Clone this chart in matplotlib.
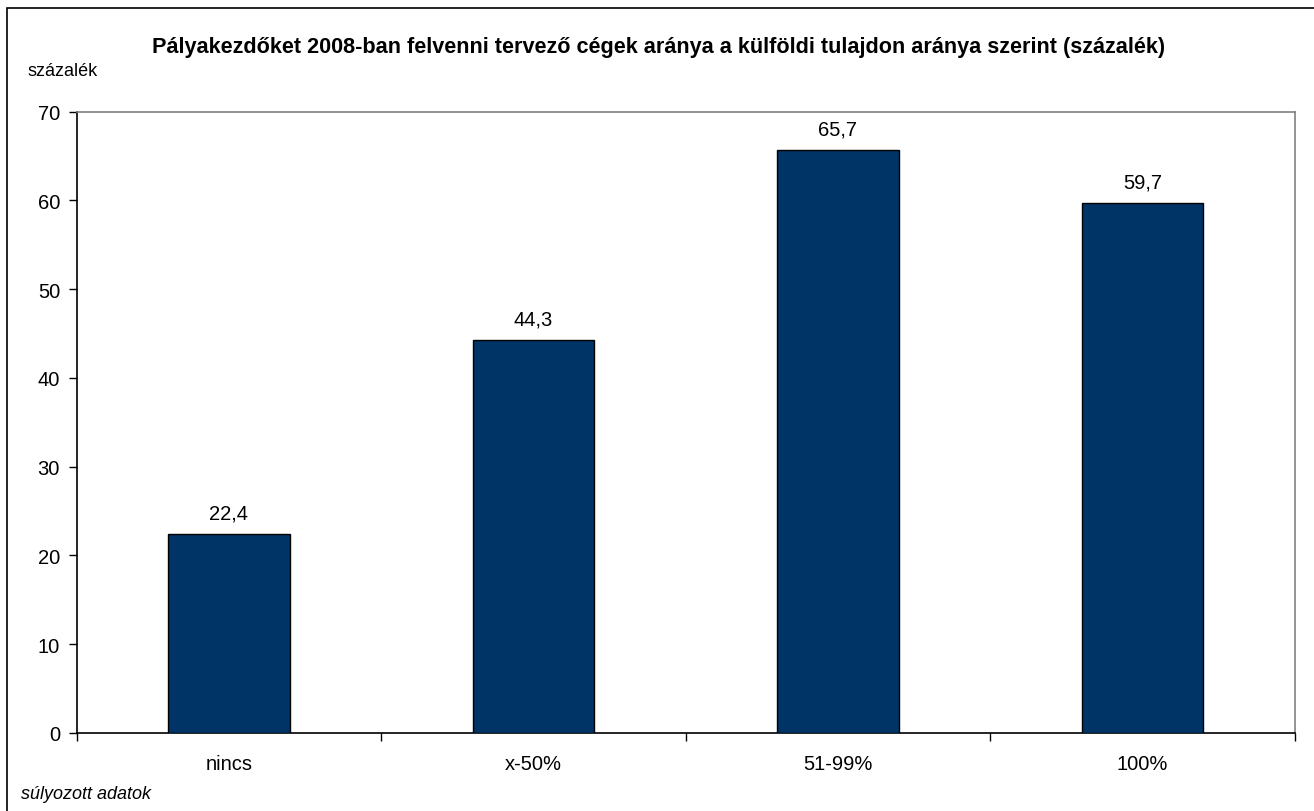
import matplotlib
matplotlib.use("Agg")
import matplotlib.pyplot as plt
from matplotlib.patches import Rectangle

categories = ["nincs", "x-50%", "51-99%", "100%"]
values = [22.4, 44.3, 65.7, 59.7]
value_labels = ["22,4", "44,3", "65,7", "59,7"]
yticks = [0, 10, 20, 30, 40, 50, 60, 70]

plt.rcParams['font.family'] = ['Liberation Sans', 'DejaVu Sans']

W, H = 1314, 812
fig = plt.figure(figsize=(W / 100, H / 100), dpi=100)
fig.patch.set_facecolor('white')

# outer frame (left and top visible)
fig.patches.append(Rectangle((7 / W, -0.01), 1.2, (H - 9) / H + 0.01, transform=fig.transFigure,
                             fill=False, edgecolor='black', linewidth=1.2))

left, right, top, bottom = 76.7, 1294.7, 112.7, 734
ax = fig.add_axes([left / W, 1 - bottom / H, (right - left) / W, (bottom - top) / H])

x = range(len(categories))
ax.bar(x, values, width=0.40, color='#003366', edgecolor='black', linewidth=1.0, zorder=3)
for i, (v, lab) in enumerate(zip(values, value_labels)):
    ax.annotate(lab, (i, v), xytext=(0, 21), textcoords='offset pixels',
                ha='center', va='center', fontsize=14.5)

ax.set_xlim(-0.5, len(categories) - 0.5)
ax.set_ylim(0, 70)
ax.set_yticks(yticks)
ax.set_yticklabels([str(t) for t in yticks], fontsize=14.5)
ax.set_xticks([i - 0.5 for i in range(len(categories) + 1)])
ax.set_xticklabels([])
ax.set_xticks(list(x), minor=True)
ax.set_xticklabels(categories, minor=True, fontsize=14.5)
ax.tick_params(axis='x', which='minor', length=0, pad=15)
ax.tick_params(axis='x', which='major', direction='out', length=6, width=1)
ax.tick_params(axis='y', direction='out', length=6, width=1, pad=6)

for s in ['top', 'right']:
    ax.spines[s].set_color('#808080')
    ax.spines[s].set_linewidth(1.2)
for s in ['left', 'bottom']:
    ax.spines[s].set_color('black')
    ax.spines[s].set_linewidth(1.2)

fig.text(659 / W, 1 - 47 / H, "Pályakezdőket 2008-ban felvenni tervező cégek aránya a külföldi tulajdon aránya szerint (százalék)",
         ha='center', va='center', fontsize=15.6, fontweight='bold')
fig.text(27 / W, 1 - 71 / H, "százalék", ha='left', va='center', fontsize=13)
fig.text(21 / W, 1 - 795 / H, "súlyozott adatok", ha='left', va='center', fontsize=13, style='italic')

fig.savefig("out.png", dpi=100)
